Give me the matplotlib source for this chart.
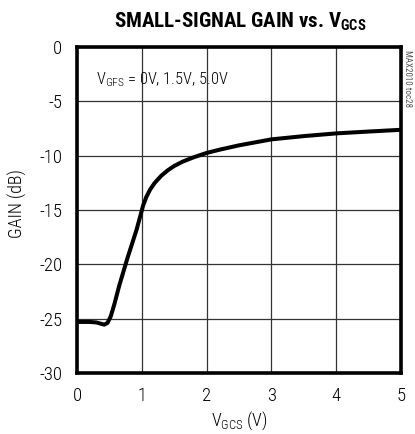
import matplotlib
matplotlib.use("Agg")
import matplotlib.pyplot as plt

FONT = 'Roboto Condensed'
plt.rcParams['font.family'] = [FONT, 'DejaVu Sans']
plt.rcParams['mathtext.fontset'] = 'custom'
plt.rcParams['mathtext.rm'] = FONT
plt.rcParams['mathtext.bf'] = FONT + ':bold'

# Data
vgcs = [0.0, 0.1, 0.2, 0.3, 0.36, 0.42, 0.47, 0.52, 0.58, 0.65, 0.72, 0.78, 0.85,
        0.92, 0.97, 1.02, 1.07, 1.13, 1.2, 1.3, 1.4, 1.5, 1.63, 1.8, 2.0, 2.2, 2.5,
        3.0, 3.5, 4.0, 4.5, 5.0]
gain = [-25.3, -25.3, -25.3, -25.35, -25.45, -25.55, -25.4, -24.8, -23.6, -22.0,
        -20.6, -19.4, -18.1, -16.8, -15.7, -14.6, -13.8, -13.1, -12.5, -11.85,
        -11.35, -10.95, -10.55, -10.15, -9.75, -9.45, -9.05, -8.5, -8.2, -7.95,
        -7.78, -7.62]
xticks = [0, 1, 2, 3, 4, 5]
yticks = [0, -5, -10, -15, -20, -25, -30]

fig = plt.figure(figsize=(4.15, 4.34), dpi=100)
ax = fig.add_axes([77/415, 61/434, 324/415, 326/434])
ax.plot(vgcs, gain, color='black', lw=2.9, solid_capstyle='round', solid_joinstyle='round')
ax.set_xlim(0, 5)
ax.set_ylim(-30, 0)
ax.set_xticks(xticks)
ax.set_yticks(yticks)
ax.set_yticklabels([str(t) for t in yticks])
ax.grid(True, color='#333333', lw=0.9)
for s in ax.spines.values():
    s.set_linewidth(2.6)
ax.tick_params(length=0, labelsize=13.5)
ax.tick_params(axis='y', pad=10.5)
ax.tick_params(axis='x', pad=10)
for lab in ax.get_xticklabels() + ax.get_yticklabels():
    lab.set_fontweight('light')
ax.set_xlabel(r'V$_{\mathregular{GCS}}$ (V)', fontsize=13, labelpad=3, fontweight='light')
ax.set_ylabel('GAIN (dB)', fontsize=13, fontweight='light')
ax.yaxis.set_label_coords(-0.155, 0.52)
fig.text(240/415, 1 - 22/434, r'SMALL-SIGNAL GAIN vs. V$_{\mathbf{GCS}}$',
         ha='center', va='center', fontsize=15, fontweight='bold')
ax.text(0.06, 0.9, r'V$_{\mathregular{GFS}}$ = 0V, 1.5V, 5.0V', transform=ax.transAxes,
        fontsize=11.8, ha='left', va='center', fontweight='light')
fig.text(407/415, 1 - 50/434, 'MAX2010 toc28', rotation=270, fontsize=6.5,
         color='#555555', ha='center', va='top')
fig.savefig('out.png', dpi=100)
